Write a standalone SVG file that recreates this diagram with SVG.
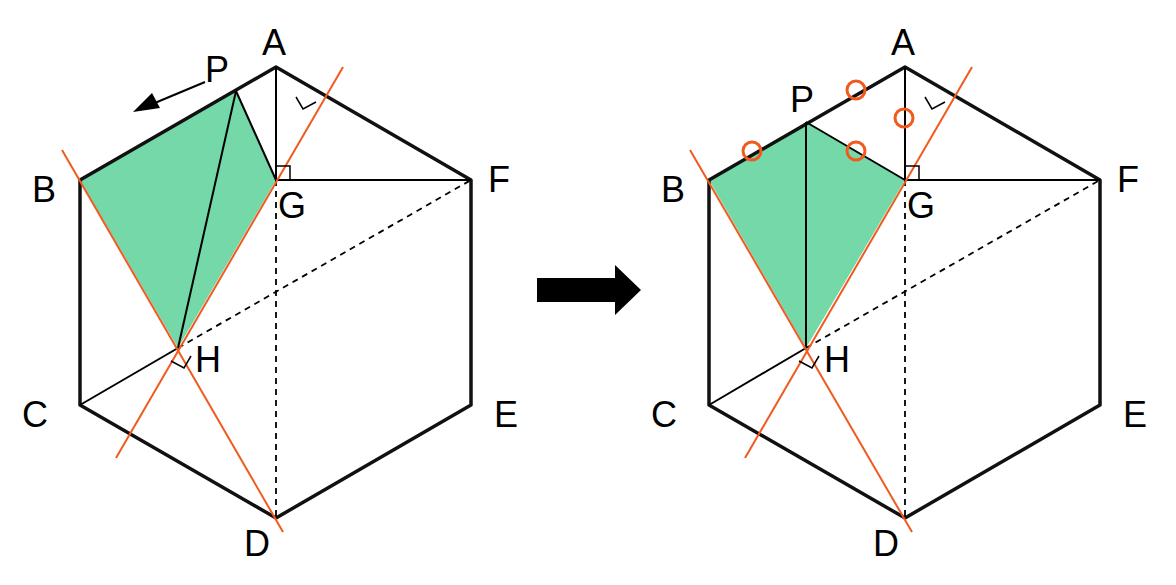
<svg xmlns="http://www.w3.org/2000/svg" width="1176" height="585" viewBox="0 0 1176 585">
<style>
.hex{fill:none;stroke:#111;stroke-width:3.5;stroke-linejoin:round}
.ln{stroke:#000;stroke-width:2;fill:none}
.ds{stroke:#000;stroke-width:1.8;stroke-dasharray:6,5;fill:none}
.or{stroke:#f05a1e;stroke-width:2;fill:none}
.oc{stroke:#f05a1e;stroke-width:3;fill:none}
.gr{fill:#74d8a8;stroke:none}
.rm{stroke:#000;stroke-width:1.5;fill:none}
text{font-family:"Liberation Sans",Arial,sans-serif;font-size:36px;fill:#000}
</style>
<rect width="1176" height="585" fill="#fff"/>
<g id="left">
<polygon class="gr" points="80,180 236,91 276,180 178,348"/>
<polygon class="hex" points="276,67 471,180 471,405 276,518 80,405 80,180"/>
<g id="connectors-left">
<line class="ln" x1="236" y1="91" x2="178" y2="348"/>
<line class="ln" x1="236" y1="91" x2="276" y2="180"/>
<line class="ln" x1="276" y1="67" x2="276" y2="180"/>
<line class="ln" x1="276" y1="180" x2="471" y2="180"/>
<line class="ln" x1="80" y1="405" x2="178" y2="348"/>
<line class="ds" x1="178" y1="348" x2="471" y2="180"/>
<line class="ds" x1="276" y1="180" x2="276" y2="518"/>
<line class="or" x1="62" y1="150" x2="283" y2="532"/>
<line class="or" x1="116" y1="458" x2="343" y2="67"/>
<polyline class="rm" points="276,166 290,166 290,180"/>
<polyline class="rm" points="171,361 184,368 191,356"/>
<polyline class="rm" points="296,97 303,109 316,102"/>
<line class="ln" x1="205" y1="82" x2="150" y2="105"/>
<polygon points="133,112 152,93 160,108" fill="#000"/>
</g>
<text x="262" y="55">A</text><text x="205" y="82">P</text><text x="32" y="202">B</text>
<text x="278" y="218">G</text><text x="488" y="192">F</text><text x="195" y="372">H</text>
<text x="22" y="427">C</text><text x="494" y="427">E</text><text x="244" y="556">D</text>
</g>
<g id="arrow">
<polygon points="537,278 615,278 615,265 641,290 615,315 615,302 537,302" fill="#000"/>
</g>
<g id="right">
<polygon class="gr" points="709,180 806,122 905,180 806,348"/>
<polygon class="hex" points="905,67 1100,180 1100,405 905,518 709,405 709,180"/>
<g id="connectors-right">
<line class="ln" x1="806" y1="122" x2="806" y2="348"/>
<line class="ln" x1="806" y1="122" x2="905" y2="180"/>
<line class="ln" x1="905" y1="67" x2="905" y2="180"/>
<line class="ln" x1="905" y1="180" x2="1100" y2="180"/>
<line class="ln" x1="709" y1="405" x2="806" y2="348"/>
<line class="ds" x1="806" y1="348" x2="1100" y2="180"/>
<line class="ds" x1="905" y1="180" x2="905" y2="518"/>
<line class="or" x1="690" y1="150" x2="912" y2="532"/>
<line class="or" x1="745" y1="458" x2="972" y2="67"/>
<polyline class="rm" points="905,166 919,166 919,180"/>
<polyline class="rm" points="799,361 812,368 819,356"/>
<polyline class="rm" points="925,97 932,109 945,102"/>
<circle class="oc" cx="752" cy="151" r="9"/>
<circle class="oc" cx="856" cy="90" r="9"/>
<circle class="oc" cx="856" cy="151" r="9"/>
<circle class="oc" cx="904" cy="118" r="9"/>
</g>
<text x="891" y="55">A</text><text x="790" y="112">P</text><text x="661" y="202">B</text>
<text x="907" y="218">G</text><text x="1117" y="192">F</text><text x="824" y="372">H</text>
<text x="651" y="427">C</text><text x="1123" y="427">E</text><text x="873" y="556">D</text>
</g>
</svg>
